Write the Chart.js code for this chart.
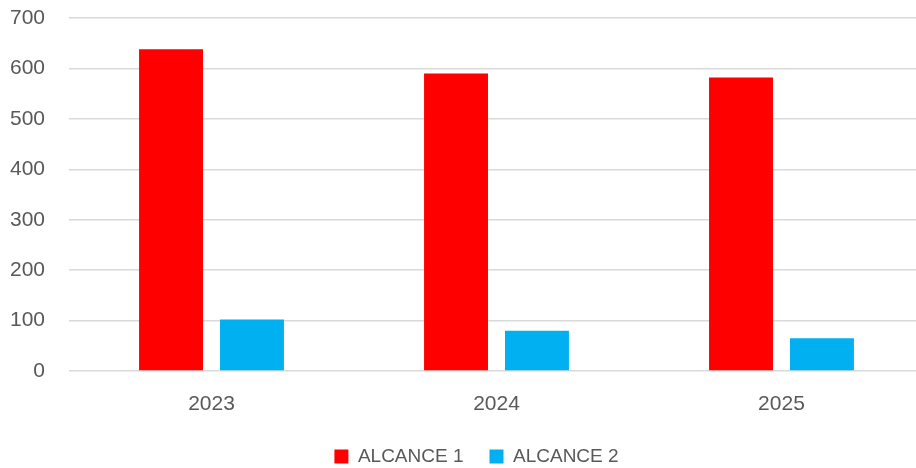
<!DOCTYPE html>
<html>
<head>
<meta charset="utf-8">
<script src="https://cdn.jsdelivr.net/npm/chart.js@4/dist/chart.umd.min.js"></script>
<style>
  html, body { margin: 0; padding: 0; background: #fff; }
  #wrap { width: 916px; height: 468px; }
</style>
</head>
<body>
<div id="wrap"><canvas id="myChart"></canvas></div>
<script>
  // years on the x axis
  let years = ["2023", "2024", "2025"];

  // values per range
  let alcance1 = [638, 590, 582];
  let alcance2 = [102, 80, 65];

  let seriesNames = ["ALCANCE 1", "ALCANCE 2"];

  let textColor = "#595959";
  let fontFamily = "'Liberation Sans', Arial, sans-serif";
  let font = { family: fontFamily, size: 21 };

  // legend sits a bit right of the canvas centre
  const legendShift = {
    id: "legendShift",
    afterLayout(chart) {
      chart.legend.left += 37;
    },
  };

  let myChart = new Chart(document.getElementById("myChart"), {
    type: "bar",
    data: {
      labels: years,
      datasets: [
        {
          label: seriesNames[0],
          data: alcance1,
          backgroundColor: "#ff0000",
        },
        {
          label: seriesNames[1],
          data: alcance2,
          backgroundColor: "#00b0f0",
        },
      ],
    },
    plugins: [legendShift],
    options: {
      responsive: true,
      maintainAspectRatio: false,
      animation: false,
      layout: { padding: { top: 18, right: 0, left: 0, bottom: 0 } },
      datasets: {
        bar: { categoryPercentage: 0.568, barPercentage: 0.79 },
      },
      plugins: {
        tooltip: { enabled: false },
        legend: {
          position: "bottom",
          maxHeight: 47,
          labels: {
            color: textColor,
            font: { family: fontFamily, size: 19 },
            boxWidth: 14,
            boxHeight: 14,
            padding: 26,
          },
        },
      },
      scales: {
        x: {
          grid: { display: false },
          border: { display: false },
          ticks: { color: textColor, font: font, padding: 13 },
          // the last group runs a little past the right edge
          afterBuildTicks: (axis) => {
            axis._valueRange = 2.972;
          },
          afterFit: (axis) => {
            axis.height = 50;
          },
        },
        y: {
          min: 0,
          max: 700,
          ticks: { stepSize: 100, color: textColor, font: font, padding: 24 },
          grid: { color: "#d9d9d9", lineWidth: 1.5, drawTicks: false },
          border: { display: false },
          afterFit: (axis) => {
            axis.width = 69;
            axis.paddingTop = 0;
            axis.paddingBottom = 0;
          },
        },
      },
    },
  });
</script>
</body>
</html>
